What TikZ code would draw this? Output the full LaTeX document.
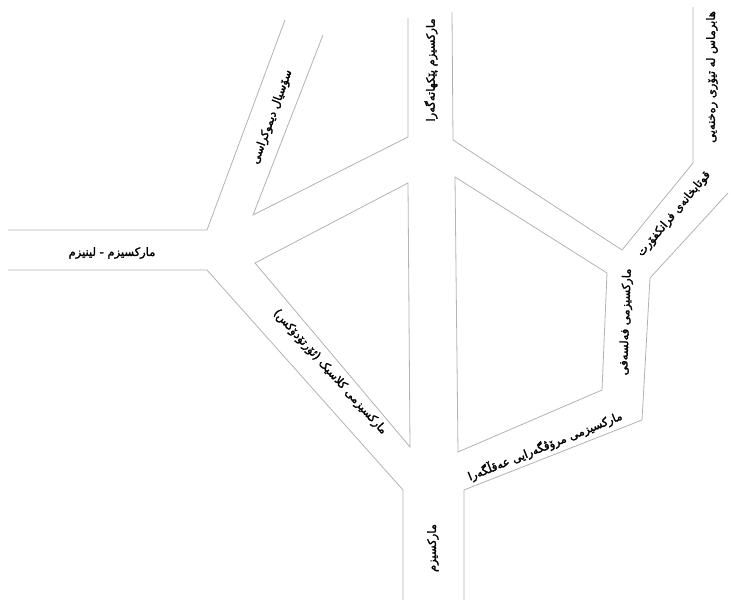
\documentclass[tikz,border=0pt]{standalone}
\usepackage{fontspec}
\usepackage{tikz}
\TeXXeTstate=1
\newfontfamily\kurdfont[Script=Arabic,FakeBold=2]{DejaVu Sans}
\newcommand{\kurd}[1]{{\kurdfont\beginR #1\endR}}

\begin{document}
\begin{tikzpicture}[x=1pt,y=-1pt,
  road/.style={draw=gray!60,line width=0.8pt,line join=miter},
  lbl/.style={inner sep=0pt,font=\fontsize{11.5}{13}\selectfont}]
\useasboundingbox (0,0) rectangle (731,604);
% road edges
\draw[road] (8,230) -- (207,230) -- (285,20);
\draw[road] (323,35) -- (253,215) -- (408,137) -- (408,18);
\draw[road] (452,12) -- (453,140) -- (622,250) -- (693,163) -- (693,7);
\draw[road] (728,193) -- (650,278) -- (642,420) -- (464,490) -- (464,600);
\draw[road] (8,270) -- (207,270) -- (403,490) -- (403,600);
% blocks between the roads
\draw[road] (408,183) -- (255,263) -- (410,447) -- cycle;
\draw[road] (455,177) -- (607,273) -- (602,390) -- (458,452) -- cycle;
% road names
\node[lbl] (lenin) at (112,253) {\kurd{مارکسیزم - لینیزم}};
\node[lbl,rotate=70] (sosyal) at (272,117) {\kurd{سۆسیال دیموکراسی}};
\node[lbl,rotate=90] (binyad) at (431,70) {\kurd{مارکسیزم پێکهاتەگەرا}};
\node[lbl,rotate=90] (habermas) at (712,77) {\kurd{هابرماس لە تیۆری رەخنەیی}};
\node[lbl,rotate=50] (frankfurt) at (674,214) {\kurd{قوتابخانەی فرانکفۆرت}};
\node[lbl,rotate=88] (falsafi) at (626,322) {\kurd{مارکسیزمی فەلسەفی}};
\node[lbl,rotate=-48] (klasik) at (330,372) {\kurd{مارکسیزمی کلاسیک (ئۆرتۆدۆکس)}};
\node[lbl,rotate=22] (aqlgera) at (545,446) {\kurd{مارکسیزمی مرۆڤگەرایی عەقڵگەرا}};
\node[lbl,rotate=90] (marksizm) at (433,548) {\kurd{مارکسیزم}};
\end{tikzpicture}
\end{document}
